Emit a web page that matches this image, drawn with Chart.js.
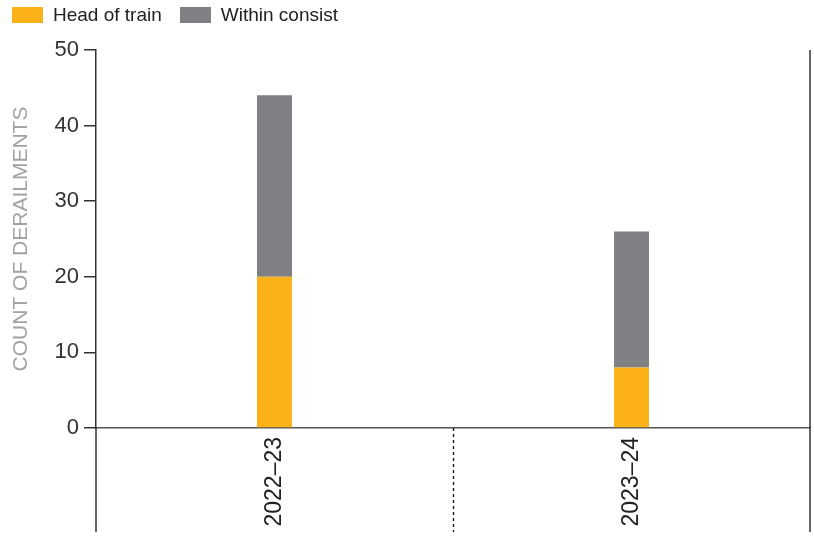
<!DOCTYPE html>
<html>
<head>
<meta charset="utf-8">
<script src="https://cdn.jsdelivr.net/npm/chart.js@4/dist/chart.umd.min.js"></script>
<style>
  html, body { margin: 0; padding: 0; background: #fff; }
  #wrap { position: relative; width: 814px; height: 536px; }
  #chart { position: absolute; left: 0; top: 0; }
  #legend { position: absolute; left: 12px; top: 4px; display: flex; font: 19px "Liberation Sans", Arial, sans-serif; color: #222; }
  .item { display: flex; align-items: center; margin-right: 18px; }
  .box { width: 31px; height: 16px; margin-right: 10px; }
</style>
</head>
<body>
<div id="wrap">
  <canvas id="chart" width="814" height="536"></canvas>
  <div id="legend"></div>
</div>
<script>
(function() {
  const years = ['2022–23', '2023–24'];
  const headOfTrain = [20, 8];
  const withinConsist = [24, 18];
  const yTicks = [0, 10, 20, 30, 40, 50];

  const FONT = '"Liberation Sans", Arial, sans-serif';
  const ORANGE = '#FDB119';
  const GREY = '#7F8084';

  const series = [
    { label: 'Head of train', data: headOfTrain, color: ORANGE },
    { label: 'Within consist', data: withinConsist, color: GREY }
  ];

  // legend as html, built from the series list
  const legendEl = document.getElementById('legend');
  series.forEach(s => {
    const item = document.createElement('div');
    item.className = 'item';
    item.innerHTML = '<span class="box" style="background:' + s.color + '"></span><span>' + s.label + '</span>';
    legendEl.appendChild(item);
  });

  // the lines that run down through the label area
  const frameLines = {
    id: 'frameLines',
    afterDraw(chart) {
      const { ctx, chartArea } = chart;
      const x = chart.scales.x;
      const end = x.bottom - 4;
      ctx.save();
      ctx.strokeStyle = '#333';
      ctx.lineWidth = 1.5;
      ctx.beginPath();
      ctx.moveTo(chartArea.left, chartArea.bottom);
      ctx.lineTo(chartArea.left, end);
      ctx.moveTo(chartArea.right, chartArea.top);
      ctx.lineTo(chartArea.right, end);
      ctx.stroke();
      ctx.lineWidth = 1.3;
      ctx.strokeStyle = '#111';
      ctx.setLineDash([3, 3]);
      for (let i = 1; i < years.length; i++) {
        const mx = Math.round((x.getPixelForValue(i - 1) + x.getPixelForValue(i)) / 2) + 0.5;
        ctx.beginPath();
        ctx.moveTo(mx, chartArea.bottom);
        ctx.lineTo(mx, end);
        ctx.stroke();
      }
      ctx.restore();
    }
  };

  new Chart(document.getElementById('chart'), {
    type: 'bar',
    data: {
      labels: years,
      datasets: series.map(s => ({
        label: s.label,
        data: s.data,
        backgroundColor: s.color,
        borderWidth: 0,
        barPercentage: 0.098,
        categoryPercentage: 1
      }))
    },
    options: {
      responsive: false,
      animation: false,
      layout: { padding: { top: 50, right: 4, left: 0, bottom: 0 } },
      plugins: {
        legend: { display: false },
        tooltip: { enabled: false }
      },
      scales: {
        x: {
          stacked: true,
          grid: { display: false, drawTicks: false },
          border: { display: true, color: '#555', width: 1.5 },
          ticks: {
            minRotation: 90,
            maxRotation: 90,
            padding: 9,
            color: '#222',
            font: { family: FONT, size: 23 }
          },
          afterFit(scale) { scale.height = 108; }
        },
        y: {
          stacked: true,
          min: 0,
          max: 50,
          afterBuildTicks(scale) { scale.ticks = yTicks.map(v => ({ value: v })); },
          grid: { drawOnChartArea: false, drawTicks: true, tickLength: 12, color: '#333', lineWidth: 1.5 },
          border: { display: true, color: '#333', width: 1.5 },
          ticks: {
            padding: 5,
            color: '#333',
            font: { family: FONT, size: 22 }
          },
          title: {
            display: true,
            text: 'COUNT OF DERAILMENTS',
            color: '#A3A3A3',
            font: { family: FONT, size: 21 },
            padding: { top: 9, bottom: 0 }
          },
          afterFit(scale) { scale.width = 96; }
        }
      }
    },
    plugins: [frameLines]
  });
})();
</script>
</body>
</html>
